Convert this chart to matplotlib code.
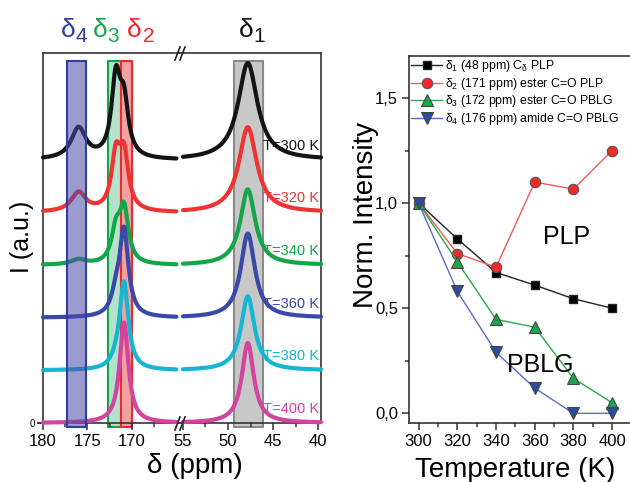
import numpy as np
import matplotlib.pyplot as plt
from matplotlib.ticker import FixedLocator, MultipleLocator, FuncFormatter
from matplotlib.lines import Line2D

plt.rcParams['font.family'] = ['Liberation Sans', 'DejaVu Sans']
plt.rcParams['mathtext.fontset'] = 'custom'
plt.rcParams['mathtext.rm'] = 'Liberation Sans'
plt.rcParams['mathtext.it'] = 'Liberation Sans:italic'
plt.rcParams['mathtext.default'] = 'regular'

# ---- left panel: spectra (peak heights, in units of trace spacing)
temps = [300, 320, 340, 360, 380, 400]
trace_colors = ['#141414', '#ee3333', '#13a54a', '#3a48a8', '#16b6d2', '#d2449e']
peak_pos = [47.8, 170.9, 171.8, 176.0]          # delta1, delta2, delta3, delta4 (ppm)
h_d1 = [1.84, 1.62, 1.44, 1.60, 1.41, 1.52]
h_d2 = [1.43, 1.33, 1.20, 1.73, 1.69, 1.90]
h_d3 = [1.79, 1.33, 0.91, 0.82, 0.60, 0.55]
h_d4 = [0.63, 0.40, 0.12, 0.0, 0.0, 0.0]
w_d1 = [1.3, 1.2, 1.0, 0.95, 0.9, 0.8]
w_co = 0.6
w_d4 = 1.0

# highlighted bands (ppm)
bands = [(177.3, 175.2, '#4a4aa8', '#2f3f9f'),
         (172.7, 171.2, '#b4e2cc', '#16a34a'),
         (171.2, 170.0, '#f2a2a2', '#ee2a2a'),
         (49.3, 46.1, '#c8c8c8', '#8a8a8a')]

# ---- right panel: normalised intensities
temp_K = [300, 320, 340, 360, 380, 400]
norm_d1 = [1.0, 0.83, 0.67, 0.61, 0.545, 0.50]
norm_d2 = [1.0, 0.76, 0.695, 1.10, 1.067, 1.25]
norm_d3 = [1.0, 0.72, 0.447, 0.41, 0.166, 0.05]
norm_d4 = [1.0, 0.58, 0.29, 0.12, 0.0, 0.0]
legend_labels = ['δ$_1$ (48 ppm) C$_δ$ PLP',
                 'δ$_2$ (171 ppm) ester C=O PLP',
                 'δ$_3$ (172 ppm) ester C=O PBLG',
                 'δ$_4$ (176 ppm) amide C=O PBLG']


def lor(x, x0, w):
    return 1.0 / (1.0 + ((x - x0) / w) ** 2)


def px(x, y):
    return x / 630, 1 - y / 482


fig = plt.figure(figsize=(6.3, 4.82), dpi=100)
ax_l = fig.add_axes([43 / 630, 0.1224, 137 / 630, 0.7676])
ax_r = fig.add_axes([180 / 630, 0.1224, 141 / 630, 0.7676])
ax_l.set_xlim(180, 164.6)
ax_r.set_xlim(55.33, 39.67)
for a in (ax_l, ax_r):
    a.set_ylim(0, 7.03)
    for s in a.spines.values():
        s.set_linewidth(1.2)
        s.set_color('#333333')
ax_l.spines['right'].set_visible(False)
ax_r.spines['left'].set_visible(False)

x_left = np.linspace(180, 165.0, 600)
x_right = np.linspace(55.0, 39.67, 600)

for i, T in enumerate(temps):
    off = 5 - i
    # solve for Lorentzian amplitudes so that the carbonyl maxima match the read heights
    M = np.array([[lor(peak_pos[a], peak_pos[b], w_d4 if b == 3 else w_co) for b in (1, 2, 3)]
                  for a in (1, 2, 3)])
    amp = np.linalg.solve(M, np.array([h_d2[i], h_d3[i], h_d4[i]]))
    amp = np.clip(amp, 0, None)
    yl = (amp[0] * lor(x_left, peak_pos[1], w_co) + amp[1] * lor(x_left, peak_pos[2], w_co)
          + amp[2] * lor(x_left, peak_pos[3], w_d4) + h_d1[i] * lor(x_left, peak_pos[0], w_d1[i]))
    yr = (h_d1[i] * lor(x_right, peak_pos[0], w_d1[i]) + amp[0] * lor(x_right, peak_pos[1], w_co))
    ax_l.plot(x_left, yl + off, color=trace_colors[i], lw=3, zorder=3, clip_on=False,
              solid_capstyle='round')
    ax_r.plot(x_right, yr + off, color=trace_colors[i], lw=3, zorder=3, clip_on=False,
              solid_capstyle='round')
    ax_r.text(0.985, (off + 0.27) / 7.03, 'T=%d K' % T, transform=ax_r.transAxes,
              ha='right', va='center', fontsize=10.5, color=trace_colors[i], zorder=2)

for j, (b1, b2, fc, ec) in enumerate(bands):
    a = ax_r if j == 3 else ax_l
    if j == 0:
        a.axvspan(b1, b2, ymin=-0.011, ymax=0.978, facecolor=fc, alpha=0.55,
                  edgecolor='none', zorder=4, clip_on=False)
        a.axvspan(b1, b2, ymin=-0.011, ymax=0.978, facecolor='none', edgecolor=ec,
                  lw=1.5, zorder=5, clip_on=False)
    else:
        a.axvspan(b1, b2, ymin=-0.011, ymax=0.978, facecolor=fc, edgecolor=ec,
                  lw=1.5, zorder=1, clip_on=False)

ax_l.xaxis.set_major_locator(FixedLocator([180, 175, 170]))
ax_l.xaxis.set_minor_locator(FixedLocator([177.5, 172.5, 167.5]))
ax_r.xaxis.set_major_locator(FixedLocator([55, 50, 45, 40]))
ax_r.xaxis.set_minor_locator(FixedLocator([52.5, 47.5, 42.5]))
for a in (ax_l, ax_r):
    a.tick_params(axis='x', which='major', direction='out', length=5, width=1.1,
                  labelsize=12, pad=3, color='#333333')
    a.tick_params(axis='x', which='minor', direction='out', length=3, width=1.1,
                  color='#333333')
ax_l.set_yticks([0])
ax_l.tick_params(axis='y', direction='out', length=4, width=1.1, labelsize=7, pad=2)
ax_r.set_yticks([])

# break marks
for yb in (53.5, 423.5):
    for dx in (-2.5, 2.5):
        x0, y0 = px(180 + dx - 2.5, yb + 6.5)
        x1, y1 = px(180 + dx + 2.5, yb - 6.5)
        fig.add_artist(Line2D([x0, x1], [y0, y1], color='#222222', lw=1.2))

# peak headers
headers = [(75, '4', '#2f3f9f'), (107, '3', '#13a54a'), (142, '2', '#ee2a2a'), (253, '1', '#141414')]
for xs, sub, c in headers:
    fig.text(*px(xs, 37), 'δ', ha='right', va='baseline', fontsize=19, color=c)
    fig.text(*px(xs + 0.5, 42), sub, ha='left', va='baseline', fontsize=15, color=c)

fig.text(*px(195, 473), 'δ (ppm)', ha='center', va='baseline', fontsize=20)
fig.text(*px(22, 237), 'I (a.u.)', ha='center', va='center', rotation=90, fontsize=18)

# ---- right panel
ax2 = fig.add_axes([409 / 630, 0.1224, 222.5 / 630, 367 / 482])
ax2.plot(temp_K, norm_d1, color='#222222', lw=1, marker='s', ms=6, mfc='black',
         mec='#222222', label=legend_labels[0])
ax2.plot(temp_K, norm_d2, color='#f05a5a', lw=1, marker='o', ms=7.5, mfc='#ee2a2a',
         mec='#555555', mew=0.8, label=legend_labels[1])
ax2.plot(temp_K, norm_d3, color='#2aa84a', lw=1, marker='^', ms=8, mfc='#1aa64a',
         mec='#444444', mew=0.8, label=legend_labels[2])
ax2.plot(temp_K, norm_d4, color='#5a6ac8', lw=1, marker='v', ms=8, mfc='#2b4da0',
         mec='#444444', mew=0.8, label=legend_labels[3])
ax2.set_xlim(295, 410)
ax2.set_ylim(-0.046, 1.70)
ax2.spines['right'].set_visible(False)
for s in ax2.spines.values():
    s.set_linewidth(1.2)
    s.set_color('#333333')
ax2.set_xticks([300, 320, 340, 360, 380, 400])
ax2.xaxis.set_minor_locator(MultipleLocator(10))
ax2.set_yticks([0, 0.5, 1.0, 1.5])
ax2.yaxis.set_minor_locator(MultipleLocator(0.25))
ax2.yaxis.set_major_formatter(FuncFormatter(lambda v, p: ('%.1f' % v).replace('.', ',')))
ax2.tick_params(which='major', direction='out', length=5, width=1.1, labelsize=12,
                pad=3, color='#333333')
ax2.tick_params(which='minor', direction='out', length=3, width=1.1, color='#333333')
ax2.text(376.6, 0.84, 'PLP', fontsize=18, ha='center', va='center')
ax2.text(362.7, 0.23, 'PBLG', fontsize=18, ha='center', va='center')
ax2.legend(loc='upper left', bbox_to_anchor=(0.0, 1.0), frameon=False, fontsize=8.8,
           handlelength=2.5, handletextpad=0.25, labelspacing=0.12, borderaxespad=0.1,
           borderpad=0.1)
fig.text(*px(515, 477), 'Temperature (K)', ha='center', va='baseline', fontsize=20)
fig.text(*px(366, 215), 'Norm. Intensity', ha='center', va='center', rotation=90, fontsize=20)

fig.savefig('out.png', dpi=100)
